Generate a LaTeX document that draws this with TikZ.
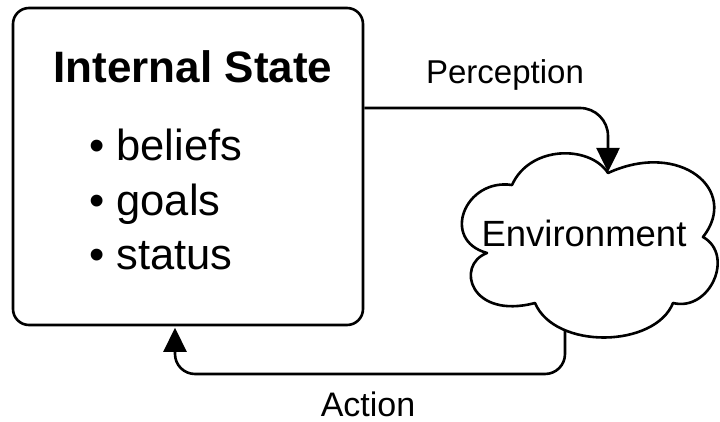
\documentclass[tikz,border=0pt]{standalone}
\usepackage{fontspec}
\setmainfont{Liberation Sans}
\usetikzlibrary{arrows.meta}
\begin{document}
\begin{tikzpicture}[x=1pt,y=-1pt,
  outline/.style={draw, line width=2.6pt, line join=round},
  flow/.style={line width=2.6pt, rounded corners=#1,
    -{Triangle[length=24pt,width=23pt]}},
  txt/.style={inner sep=0pt, anchor=base},
  title/.style={txt, font=\fontsize{44}{52}\selectfont\bfseries},
  item/.style={txt, anchor=base west, font=\fontsize{43.5}{52}\selectfont},
  lbl/.style={txt, font=\fontsize{33}{40}\selectfont}
]
\useasboundingbox (0,0) rectangle (720,422);

% agent box with its contents
\node[outline, rounded corners=16pt, minimum width=350pt, minimum height=317pt,
      inner sep=0pt] (state) at (188,166.5) {};
\node[title] (title) at (193,83) {Internal State};
\node[item] (beliefs) at (89,161) {• beliefs};
\node[item] (goals) at (89,215) {• goals};
\node[item] (status) at (89,269) {• status};

% environment cloud
\draw[outline] (608,173)
  .. controls (590,145) and (530,145) .. (512,185)
  .. controls (465,178) and (440,240) .. (487,253)
  .. controls (455,265) and (470,320) .. (535,303)
  .. controls (555,350) and (655,348) .. (673,303)
  .. controls (710,312) and (735,255) .. (703,237)
  .. controls (740,190) and (680,140) .. (608,173) -- cycle;
\node[txt, font=\fontsize{36.5}{44}\selectfont] (env) at (584,246) {Environment};
\coordinate (envtop) at (608,172);
\coordinate (envbot) at (565,330);

% perception and action loops
\coordinate (pstart) at ([yshift=58.5pt]state.east);
\draw[flow=28pt] (pstart) -| (envtop);
\node[lbl] (perc) at (505,84) {Perception};

\draw[flow=20pt] (envbot) -- ++(0,44) -| ([xshift=-13pt,yshift=-1.5pt]state.south);
\node[lbl, font=\fontsize{34}{40}\selectfont] (act) at (368,416) {Action};
\end{tikzpicture}
\end{document}
